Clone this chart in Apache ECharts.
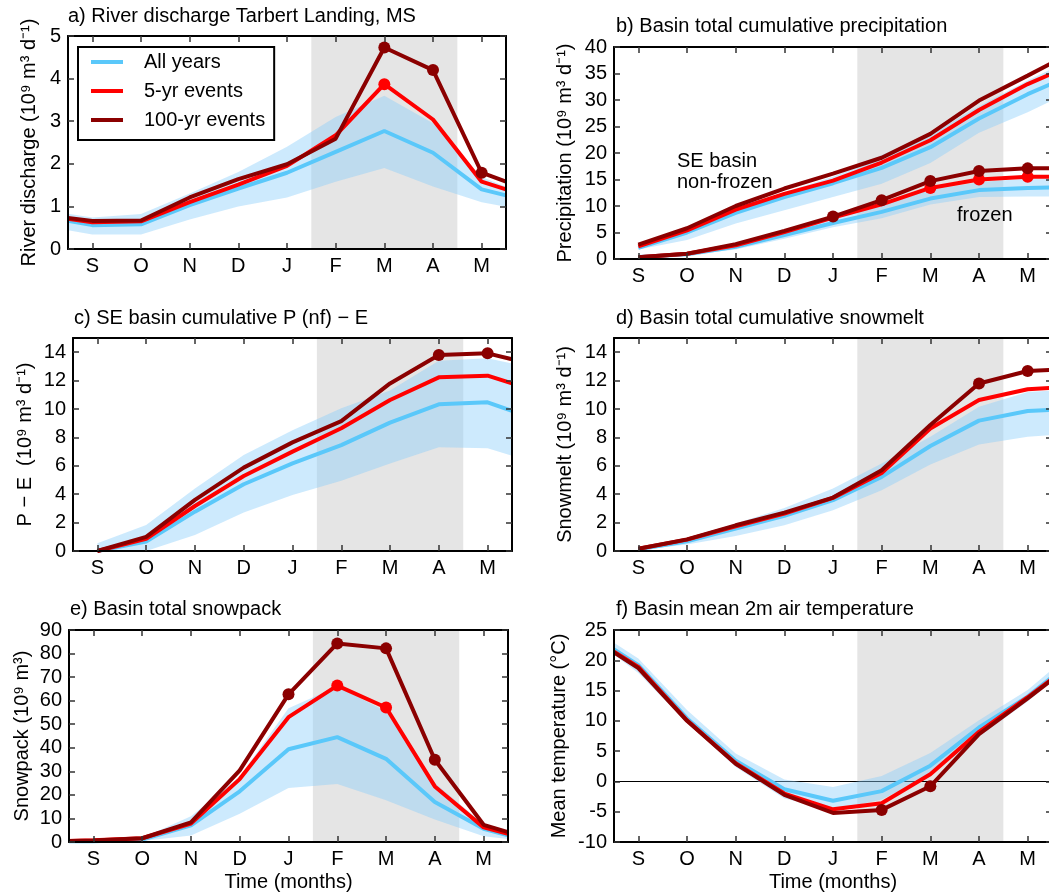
<!DOCTYPE html>
<html>
<head>
<meta charset="utf-8">
<script src="https://cdn.jsdelivr.net/npm/echarts/dist/echarts.min.js"></script>
<style>html,body{margin:0;padding:0;background:#fff}#c{width:1049px;height:893px}</style>
</head>
<body>
<div id="c"></div>
<script>
// ---------------- DATA ----------------
const months = ['S','O','N','D','J','F','M','A','M'];
const monthTicks = [0,1,2,3,4,5,6,7,8];
// time positions (months since September); edges of the window at -0.5 and 8.5
const xFull  = [-0.5,0,1,2,3,4,5,6,7,8,8.5];
const xFromS = [0,1,2,3,4,5,6,7,8,8.5];
const spring = [4.5, 7.5];   // shaded season

// a) River discharge
const aAll  = [0.66,0.56,0.58,1.03,1.42,1.79,2.28,2.77,2.26,1.40,1.26];
const aLow  = [0.44,0.34,0.34,0.69,1.00,1.21,1.58,1.90,1.47,1.10,0.99];
const aHigh = [0.83,0.74,0.82,1.30,1.81,2.40,3.10,3.60,2.95,1.69,1.46];
const a5    = [0.71,0.63,0.65,1.10,1.51,1.95,2.67,3.87,3.04,1.58,1.40];
const a100  = [0.73,0.66,0.67,1.21,1.64,1.99,2.59,4.73,4.20,1.79,1.58];
const aDots5 = [7], aDots100 = [7,8,9];

// b) cumulative precipitation, SE basin non-frozen and frozen
const bNfAll  = [2.1,5.0,8.7,11.7,14.3,17.2,21.1,26.5,31.1,33.1];
const bNfLow  = [1.8,3.6,6.7,9.2,11.7,14.2,18.1,23.8,27.7,29.9];
const bNfHigh = [2.6,6.0,9.8,12.6,15.5,19.6,23.6,28.8,33.7,35.9];
const bNf5    = [2.4,5.4,9.3,12.3,14.8,18.2,22.4,28.1,33.0,35.0];
const bNf100  = [2.7,5.8,10.0,13.3,16.1,19.1,23.6,29.9,34.6,37.0];
const bFzAll  = [0.4,0.9,2.3,4.5,6.8,8.9,11.4,13.0,13.4,13.5];
const bFzLow  = [0.25,0.7,1.8,3.8,6.0,7.7,10.3,11.7,11.8,11.8];
const bFzHigh = [0.5,1.1,2.6,5.0,7.6,10.4,13.0,14.5,15.2,15.2];
const bFz5    = [0.35,1.0,2.6,5.1,7.8,10.3,13.4,15.0,15.5,15.5];
const bFz100  = [0.35,1.0,2.8,5.3,8.0,11.1,14.7,16.6,17.1,17.1];
const bDots5 = [6,7,8], bDots100 = [4,5,6,7,8];

// c) SE basin cumulative P(nf) - E
const cAll  = [0,0.66,2.77,4.70,6.17,7.46,9.04,10.33,10.47,9.86];
const cLow  = [0,0,1.13,2.72,3.94,4.95,6.17,7.30,7.23,6.70];
const cHigh = [0.54,1.83,4.40,6.76,8.50,10.05,11.30,13.40,13.57,13.20];
const c5    = [0,0.85,3.17,5.28,7.00,8.64,10.63,12.23,12.35,11.80];
const c100  = [0,1.00,3.60,5.87,7.65,9.15,11.80,13.80,13.92,13.50];
const cDots5 = [], cDots100 = [7,8];

// d) cumulative snowmelt
const dAll  = [0.12,0.68,1.58,2.47,3.58,5.22,7.39,9.18,9.86,9.93];
const dLow  = [0.05,0.45,1.06,1.81,2.87,4.28,6.09,7.50,8.05,8.16];
const dHigh = [0.21,0.92,1.93,3.03,4.40,6.16,8.05,10.16,11.20,11.30];
const d5    = [0.16,0.80,1.74,2.63,3.74,5.50,8.63,10.63,11.39,11.50];
const d100  = [0.16,0.82,1.81,2.70,3.76,5.69,8.87,11.80,12.68,12.75];
const dDots5 = [], dDots100 = [7,8];

// e) snowpack
const eAll  = [0.3,0.3,1.0,7.1,21.5,39.4,44.5,35.3,17.0,5.6,2.8];
const eLow  = [0,0,0.4,2.8,12.0,22.9,24.6,17.7,9.5,2.4,1.3];
const eHigh = [0.7,0.7,1.7,10.9,27.8,56.8,66.0,55.4,25.0,7.6,4.5];
const e5    = [0.4,0.7,1.6,7.8,26.7,53.0,66.4,57.1,23.6,6.2,3.5];
const e100  = [0.4,0.6,1.6,8.3,30.4,62.7,84.3,82.2,34.9,7.3,4.2];
const eDots5 = [6,7], eDots100 = [5,6,7,8];

// f) 2m air temperature
const fAll  = [21.8,19.2,10.4,3.4,-1.3,-3.2,-1.6,2.6,8.9,14.0,17.2];
const fLow  = [20.9,17.9,9.7,2.4,-2.8,-4.7,-3.0,1.0,7.4,13.2,16.5];
const fHigh = [22.9,20.3,11.8,4.6,0.3,-0.9,0.9,4.7,10.1,15.1,18.5];
const f5    = [21.4,18.9,10.1,3.0,-2.0,-4.6,-3.6,1.2,8.2,13.9,16.9];
const f100  = [21.3,18.7,10.0,2.9,-2.2,-5.2,-4.7,-0.8,7.8,13.7,16.8];
const fDots5 = [], fDots100 = [6,7];

// ---------------- STYLE ----------------
const FONT = '"Liberation Sans", Arial, Helvetica, sans-serif';
const BLUE = '#5ac8fa', RED = '#ff0000', DARK = '#8b0000';
const BAND = 'rgba(135,206,250,0.42)', SHADE = '#e5e5e5';
const TXT = {fontSize:20, color:'#000', fontFamily:FONT};

const grids = [], xAxes = [], yAxes = [], series = [], titles = [];

function pts(xs, ys){ return xs.map((x,i)=>[x, ys[i]]); }

function addBand(i, xs, lo, hi){
  series.push({
    type:'custom', xAxisIndex:2*i, yAxisIndex:2*i, silent:true, z:2,
    data: xs.map((x,k)=>[x, lo[k], hi[k]]),
    renderItem:function(params, api){
      if (params.dataIndex !== 0) return null;
      const up = xs.map((x,k)=>api.coord([x, hi[k]]));
      const dn = xs.map((x,k)=>api.coord([x, lo[k]])).reverse();
      return {type:'polygon', shape:{points: up.concat(dn)}, style:{fill:BAND}};
    }
  });
}
function addLine(i, name, xs, ys, color, dots, extra){
  series.push(Object.assign({
    type:'line', name:name, xAxisIndex:2*i, yAxisIndex:2*i, data:pts(xs, ys),
    symbol:'none', showSymbol:false, silent:true, z:3,
    color:color, itemStyle:{color:color}, lineStyle:{color:color, width:4}
  }, extra||{}));
  if (dots && dots.length){
    series.push({
      type:'scatter', name:name, xAxisIndex:2*i, yAxisIndex:2*i, silent:true, z:4,
      data: dots.map(k=>[xs[k], ys[k]]), symbol:'circle', symbolSize:12,
      itemStyle:{color:color, opacity:1}
    });
  }
}

function addPanel(p){
  const i = grids.length;
  grids.push({left:p.box[0], top:p.box[1], width:p.box[2], height:p.box[3], show:false, outerBoundsMode:'none'});
  const tick = {show:true, inside:true, length:6, lineStyle:{color:'#333', width:1.5}};
  const axLine = {show:true, onZero:false, lineStyle:{color:'#000', width:2}};
  const xb = {gridIndex:i, type:'value', min:-0.5, max:8.5, splitLine:{show:false}, z:10, axisLine:axLine};
  xAxes.push(Object.assign({}, xb, {
    position:'bottom',
    axisTick:Object.assign({customValues:monthTicks}, tick),
    axisLabel:Object.assign({customValues:monthTicks, formatter:v=>months[Math.round(v)], margin:7}, TXT),
    name:p.xName||'', nameLocation:'middle', nameGap:30, nameTextStyle:TXT
  }));
  xAxes.push(Object.assign({}, xb, {
    position:'top', axisTick:Object.assign({customValues:monthTicks}, tick), axisLabel:{show:false}
  }));
  const yb = {gridIndex:i, type:'value', min:p.ymin, max:p.ymax, splitLine:{show:false}, z:10, axisLine:axLine};
  const yt = p.yTicks ? {customValues:p.yTicks} : {};
  if (!p.yTicks) yb.interval = p.yInt;
  yAxes.push(Object.assign({}, yb, {
    position:'left',
    axisTick:Object.assign({}, yt, tick),
    axisLabel:Object.assign({}, yt, TXT, {margin:7}),
    name:p.yName, nameLocation:'middle', nameGap:p.nameGap, nameTextStyle:TXT
  }));
  yAxes.push(Object.assign({}, yb, {
    position:'right', axisTick:Object.assign({}, yt, tick), axisLabel:{show:false}
  }));
  titles.push({text:p.title, left:p.tpos[0], top:p.tpos[1], padding:0,
    textStyle:Object.assign({fontWeight:'normal'}, TXT)});
  return i;
}

const shadeArea = {silent:true, itemStyle:{color:SHADE}, data:[[{xAxis:spring[0]},{xAxis:spring[1]}]]};

// panel a
let i = addPanel({box:[68,36,438,213], ymin:0, ymax:5, yInt:1, title:'a) River discharge Tarbert Landing, MS', tpos:[68,6],
  yName:'River discharge (10⁹ m³ d⁻¹)', nameGap:29});
addBand(i, xFull, aLow, aHigh);
addLine(i, 'All years', xFull, aAll, BLUE, [], {markArea:shadeArea});
addLine(i, '5-yr events', xFull, a5, RED, aDots5);
addLine(i, '100-yr events', xFull, a100, DARK, aDots100);

// panel b
i = addPanel({box:[614,47,438,212], ymin:0, ymax:40, yInt:5, title:'b) Basin total cumulative precipitation', tpos:[616,16],
  yName:'Precipitation (10⁹ m³ d⁻¹)', nameGap:39});
addBand(i, xFromS, bNfLow, bNfHigh);
addBand(i, xFromS, bFzLow, bFzHigh);
addLine(i, 'All years', xFromS, bNfAll, BLUE, [], {markArea:shadeArea});
addLine(i, 'All years', xFromS, bFzAll, BLUE, []);
addLine(i, '5-yr events', xFromS, bNf5, RED, []);
addLine(i, '5-yr events', xFromS, bFz5, RED, bDots5);
addLine(i, '100-yr events', xFromS, bNf100, DARK, []);
addLine(i, '100-yr events', xFromS, bFz100, DARK, bDots100);

// panel c
i = addPanel({box:[73,338,439,213], ymin:0, ymax:15, yTicks:[0,2,4,6,8,10,12,14], title:'c) SE basin cumulative P (nf) − E', tpos:[74,308],
  yName:'P − E  (10⁹ m³ d⁻¹)', nameGap:38});
addBand(i, xFromS, cLow, cHigh);
addLine(i, 'All years', xFromS, cAll, BLUE, [], {markArea:shadeArea});
addLine(i, '5-yr events', xFromS, c5, RED, cDots5);
addLine(i, '100-yr events', xFromS, c100, DARK, cDots100);

// panel d
i = addPanel({box:[614,338,438,213], ymin:0, ymax:15, yTicks:[0,2,4,6,8,10,12,14], title:'d) Basin total cumulative snowmelt', tpos:[616,308],
  yName:'Snowmelt (10⁹ m³ d⁻¹)', nameGap:39});
addBand(i, xFromS, dLow, dHigh);
addLine(i, 'All years', xFromS, dAll, BLUE, [], {markArea:shadeArea});
addLine(i, '5-yr events', xFromS, d5, RED, dDots5);
addLine(i, '100-yr events', xFromS, d100, DARK, dDots100);

// panel e
i = addPanel({box:[69,630,439,212], ymin:0, ymax:90, yInt:10, title:'e) Basin total snowpack', tpos:[70,599],
  yName:'Snowpack (10⁹ m³)', nameGap:37, xName:'Time (months)'});
addBand(i, xFull, eLow, eHigh);
addLine(i, 'All years', xFull, eAll, BLUE, [], {markArea:shadeArea});
addLine(i, '5-yr events', xFull, e5, RED, eDots5);
addLine(i, '100-yr events', xFull, e100, DARK, eDots100);

// panel f
i = addPanel({box:[614,630,438,212], ymin:-10, ymax:25, yInt:5, title:'f) Basin mean 2m air temperature', tpos:[616,599],
  yName:'Mean temperature (°C)', nameGap:45, xName:'Time (months)'});
addBand(i, xFull, fLow, fHigh);
addLine(i, 'All years', xFull, fAll, BLUE, [], {markArea:shadeArea,
  markLine:{silent:true, symbol:'none', z:2, label:{show:false}, lineStyle:{color:'#000', width:1, type:'solid'}, data:[{yAxis:0}]}});
addLine(i, '5-yr events', xFull, f5, RED, fDots5);
addLine(i, '100-yr events', xFull, f100, DARK, fDots100);

const chart = echarts.init(document.getElementById('c'), null, {renderer:'canvas'});
chart.setOption({
  animation:false,
  backgroundColor:'#fff',
  title:titles,
  grid:grids, xAxis:xAxes, yAxis:yAxes, series:series,
  legend:{
    orient:'vertical', left:78, top:47, padding:[5,9,10,13],
    itemWidth:32, itemHeight:4, itemGap:9, icon:'rect', selectedMode:false,
    borderColor:'#000', borderWidth:2, backgroundColor:'#fff',
    data:['All years','5-yr events','100-yr events'],
    textStyle:Object.assign({padding:[0,0,0,16], lineHeight:20}, TXT)
  },
  graphic:[
    {type:'text', z:100, left:677, top:151, style:{text:'SE basin\nnon-frozen', lineHeight:21, fontSize:20, fontFamily:FONT, fill:'#000'}},
    {type:'text', z:100, left:957, top:205, style:{text:'frozen', fontSize:20, fontFamily:FONT, fill:'#000'}}
  ]
});
</script>
</body>
</html>
